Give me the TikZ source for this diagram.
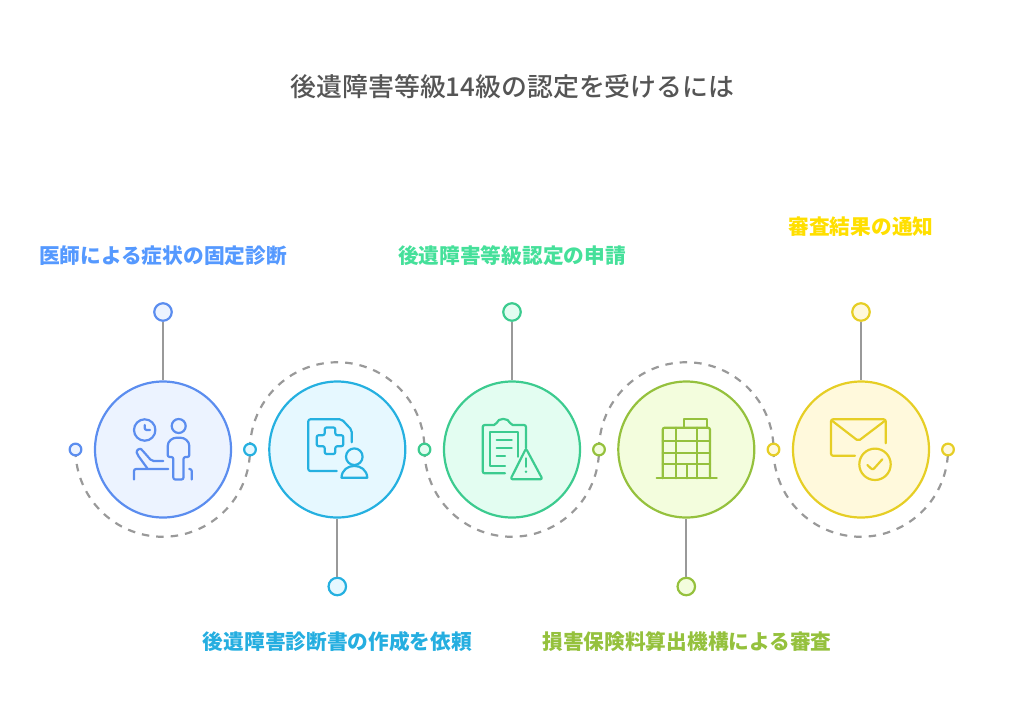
\documentclass[tikz,border=0pt]{standalone}
\usepackage{fontspec}
\setmainfont{Noto Sans CJK JP}
\newfontfamily\titlefont{Noto Sans CJK JP Medium}
\usetikzlibrary{backgrounds}
\definecolor{blueL}{HTML}{5B8DEF}
\definecolor{blueF}{HTML}{ECF3FF}
\definecolor{blueT}{HTML}{5599FF}
\definecolor{cyanL}{HTML}{25B0E0}
\definecolor{cyanF}{HTML}{E6F8FF}
\definecolor{cyanT}{HTML}{25AEE0}
\definecolor{greenL}{HTML}{3CCB8F}
\definecolor{greenF}{HTML}{E3FDF1}
\definecolor{greenT}{HTML}{45E09A}
\definecolor{oliveL}{HTML}{95C13D}
\definecolor{oliveF}{HTML}{F3FDDD}
\definecolor{oliveT}{HTML}{95C13D}
\definecolor{yellowL}{HTML}{E6CE25}
\definecolor{yellowF}{HTML}{FFF9DC}
\definecolor{yellowT}{HTML}{FFDF00}
\definecolor{stemC}{HTML}{999999}
\definecolor{titleC}{HTML}{555555}

\begin{document}
\begin{tikzpicture}[
    x=1pt, y=1pt,
    bigc/.style={circle, draw, line width=2.2pt, minimum size=136pt, inner sep=0pt},
    topc/.style={circle, draw, line width=2.2pt, minimum size=17.5pt, inner sep=0pt},
    sidec/.style={circle, draw, line width=2.2pt, minimum size=11.7pt, inner sep=0pt},
    stem/.style={stemC, line width=2.3pt},
    wave/.style={stemC, line width=2.2pt, dash pattern=on 7.5pt off 7pt},
    icon/.style={line width=2.2pt, line cap=round, line join=round, rounded corners=2pt},
    lab/.style={font=\fontsize{20.7pt}{24pt}\selectfont\bfseries}
]
\useasboundingbox (0,0) rectangle (1024,-724);

\node[font=\titlefont\fontsize{25.9pt}{30pt}\selectfont, text=titleC] (title) at (512.5,-87) {後遺障害等級14級の認定を受けるには};

\node[bigc, draw=blueL, fill=blueF] (c1) at (163,-449.5) {};
\node[bigc, draw=cyanL, fill=cyanF] (c2) at (337.3,-449.5) {};
\node[bigc, draw=greenL, fill=greenF] (c3) at (512,-449.5) {};
\node[bigc, draw=oliveL, fill=oliveF] (c4) at (686.3,-449.5) {};
\node[bigc, draw=yellowL, fill=yellowF] (c5) at (861,-449.5) {};

\node[topc, draw=blueL, fill=blueF] (t1) at (163,-312) {};
\node[topc, draw=cyanL, fill=cyanF] (t2) at (337.3,-586.5) {};
\node[topc, draw=greenL, fill=greenF] (t3) at (512,-312) {};
\node[topc, draw=oliveL, fill=oliveF] (t4) at (686.3,-586.5) {};
\node[topc, draw=yellowL, fill=yellowF] (t5) at (861,-312) {};

\node[sidec, draw=blueL, fill=blueF] (s0) at (75.5,-449.5) {};
\node[sidec, draw=cyanL, fill=cyanF] (s1) at (250,-449.5) {};
\node[sidec, draw=greenL, fill=greenF] (s2) at (424.5,-449.5) {};
\node[sidec, draw=oliveL, fill=oliveF] (s3) at (599,-449.5) {};
\node[sidec, draw=yellowL, fill=yellowF] (s4) at (773.5,-449.5) {};
\node[sidec, draw=yellowL, fill=yellowF] (s5) at (948,-449.5) {};

\begin{scope}[on background layer]
\draw[wave] (s0.center) arc[start angle=180, end angle=360, radius=87.25];
\draw[wave] (s1.center) arc[start angle=180, end angle=0, radius=87.25];
\draw[wave] (s2.center) arc[start angle=180, end angle=360, radius=87.25];
\draw[wave] (s3.center) arc[start angle=180, end angle=0, radius=87.25];
\draw[wave] (s4.center) arc[start angle=180, end angle=360, radius=87.25];
\end{scope}

\draw[stem] (t1) -- (c1);
\draw[stem] (t2) -- (c2);
\draw[stem] (t3) -- (c3);
\draw[stem] (t4) -- (c4);
\draw[stem] (t5) -- (c5);

\node[lab, text=blueT] (l1) at (163,-255.5) {医師による症状の固定診断};
\node[lab, text=cyanT] (l2) at (337.5,-641.5) {後遺障害診断書の作成を依頼};
\node[lab, text=greenT] (l3) at (512,-255.5) {後遺障害等級認定の申請};
\node[lab, text=oliveT] (l4) at (687,-641.5) {損害保険料算出機構による審査};
\node[lab, text=yellowT] (l5) at (861,-226.5) {審査結果の通知};

% doctor
\begin{scope}[icon, draw=blueL]
\draw (144.7,-430) circle[radius=10.7];
\draw (144.7,-425) -- (144.7,-430) -- (150,-430);
\draw (178.7,-426) circle[radius=7];
\draw (173.3,-457) -- (173.3,-479.5) -- (183.5,-479.5) -- (183.5,-457) -- (189.3,-457) -- (189.3,-448) .. controls (189.3,-441) and (184.5,-437.7) .. (178.5,-437.7) .. controls (172.5,-437.7) and (167.7,-441) .. (167.7,-448) -- (167.7,-457) -- cycle;
\draw (189.3,-469) -- (191.7,-469) -- (191.7,-479.5);
\draw (168.3,-469) -- (134,-469) -- (134,-479.5);
\draw (147.3,-468.3) -- (137.3,-454.5) .. controls (136,-450) and (140,-448) .. (142.5,-450.5) -- (151.7,-461) -- (163.3,-461);
\end{scope}

% report
\begin{scope}[icon, draw=cyanL]
\draw (336.7,-471) -- (308.3,-471) -- (308.3,-419.3) -- (341.7,-419.3) -- (351.7,-430) -- (351.7,-442.3);
\draw (324.7,-427.4) -- (335.3,-427.4) -- (335.3,-435.2) -- (343.3,-435.2) -- (343.3,-446.2) -- (335.3,-446.2) -- (335.3,-454) -- (324.7,-454) -- (324.7,-446.2) -- (316.7,-446.2) -- (316.7,-435.2) -- (324.7,-435.2) -- cycle;
\draw (354.3,-456.7) circle[radius=8.3];
\draw[rounded corners=0pt] (341.5,-477.7) .. controls (342,-462) and (366.5,-462) .. (367.3,-477.7) -- cycle;
\end{scope}

% clipboard
\begin{scope}[icon, draw=greenL]
\draw (505,-473.3) -- (482.7,-473.3) -- (482.7,-425) -- (496,-425) .. controls (498,-417.5) and (508.5,-417.5) .. (510.7,-425) -- (526,-425) -- (526,-448.3);
\draw[rounded corners=0pt] (505,-465.7) -- (490,-465.7) -- (490,-431.7) -- (518.3,-431.7) -- (518.3,-456.7);
\draw (496.7,-440) -- (511.7,-440);
\draw (496.7,-447.7) -- (511.7,-447.7);
\draw (496.7,-455.7) -- (505,-455.7);
\draw (526,-448.5) -- (510.5,-479.2) -- (542.5,-479.2) -- cycle;
\draw (526,-458.3) -- (526,-466.7);
\fill[greenL] (526,-471.7) circle[radius=1.4];
\end{scope}

% building
\begin{scope}[icon, draw=oliveL]
\draw (656.7,-478.3) -- (716.7,-478.3);
\draw (662.7,-478.3) -- (662.7,-427.7) -- (710,-427.7) -- (710,-478.3);
\draw (662.7,-441) -- (710,-441);
\draw (662.7,-452.7) -- (710,-452.7);
\draw (662.7,-464.3) -- (710,-464.3);
\draw (676,-427.7) -- (676,-478.3);
\draw (696.7,-427.7) -- (696.7,-478.3);
\draw (686.7,-464.3) -- (686.7,-478.3);
\draw[rounded corners=0pt] (683.7,-427.7) -- (683.7,-419.3) -- (707.3,-419.3) -- (707.3,-427.7);
\end{scope}

% mail
\begin{scope}[icon, draw=yellowL]
\draw (855,-455.7) -- (831,-455.7) -- (831,-419.3) -- (885.7,-419.3) -- (885.7,-443.3);
\draw (832,-420.7) -- (858.3,-441) -- (885,-420.7);
\draw (875,-464.3) circle[radius=15.7];
\draw (867.3,-465) -- (872.7,-470) -- (882.3,-459.3);
\end{scope}
\end{tikzpicture}
\end{document}
